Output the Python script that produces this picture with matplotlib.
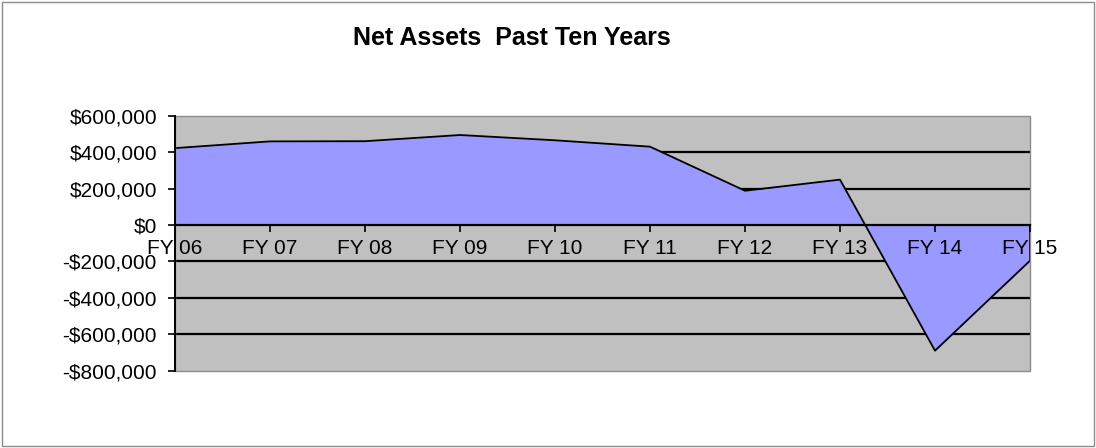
"""Net assets over the past ten fiscal years, as an Excel-style area chart."""

import matplotlib

matplotlib.use("Agg")
import matplotlib.pyplot as plt
from matplotlib.patches import Rectangle
from matplotlib.ticker import FuncFormatter

years = ["FY 06", "FY 07", "FY 08", "FY 09", "FY 10",
         "FY 11", "FY 12", "FY 13", "FY 14", "FY 15"]
net_assets = [422000, 459000, 460000, 494000, 465000,
              430000, 188000, 249000, -690000, -196000]
y_ticks = [-800000, -600000, -400000, -200000, 0, 200000, 400000, 600000]

FILL = "#9999FF"
PLOT_BG = "#C0C0C0"

plt.rcParams["font.family"] = ["Liberation Sans", "DejaVu Sans"]

fig = plt.figure(figsize=(10.96, 4.48), dpi=100)
ax = fig.add_axes([175 / 1096, 1 - 370.7 / 448, 855 / 1096, (370.7 - 115.7) / 448])
ax.set_facecolor(PLOT_BG)

x = list(range(len(years)))
ax.fill_between(x, net_assets, 0, color=FILL, lw=0, zorder=2)
# outline: the series line plus the drop to zero at both ends
ax.plot([x[0]] + x + [x[-1]], [0] + net_assets + [0], color="black", lw=1.3, zorder=3)

ax.set_xlim(0, len(years) - 1)
ax.set_ylim(y_ticks[0], y_ticks[-1])

# gridlines sit behind the filled area, like Excel draws them
for v in y_ticks[1:-1]:
    if v != 0:
        ax.axhline(v, color="black", lw=1.6, zorder=1)

# plot-area border (thin grey) on top, right and bottom
ax.add_patch(Rectangle((0, 0), 1, 1, transform=ax.transAxes, fill=False,
                       ec="#8c8c8c", lw=1.0, zorder=4, clip_on=False))

for side in ("top", "right"):
    ax.spines[side].set_visible(False)
ax.spines["left"].set_color("black")
ax.spines["left"].set_linewidth(1.4)
ax.spines["left"].set_zorder(5)
ax.spines["bottom"].set_position(("data", 0))
ax.spines["bottom"].set_color("black")
ax.spines["bottom"].set_linewidth(1.6)
ax.spines["bottom"].set_zorder(5)

ax.set_yticks(y_ticks)
ax.yaxis.set_major_formatter(
    FuncFormatter(lambda v, _: f"-${abs(v):,.0f}" if v < 0 else f"${v:,.0f}"))
ax.set_xticks(x)
ax.set_xticklabels(years)
ax.tick_params(axis="y", direction="out", length=5, width=1.2, pad=8,
               labelsize=15, colors="black")
ax.tick_params(axis="x", direction="out", length=5, width=1.2, pad=5,
               labelsize=15, colors="black")
ax.xaxis.set_zorder(6)
ax.yaxis.set_zorder(6)

fig.text(512 / 1096, 1 - 38 / 448, "Net Assets  Past Ten Years",
         ha="center", va="center", fontsize=18, fontweight="bold")

# outer chart frame
fig.patches.append(Rectangle((0.002, 0.004), 0.996, 0.992, transform=fig.transFigure,
                             fill=False, ec="#8c8c8c", lw=1.0))

fig.savefig("out.png", dpi=100)
plt.close(fig)
